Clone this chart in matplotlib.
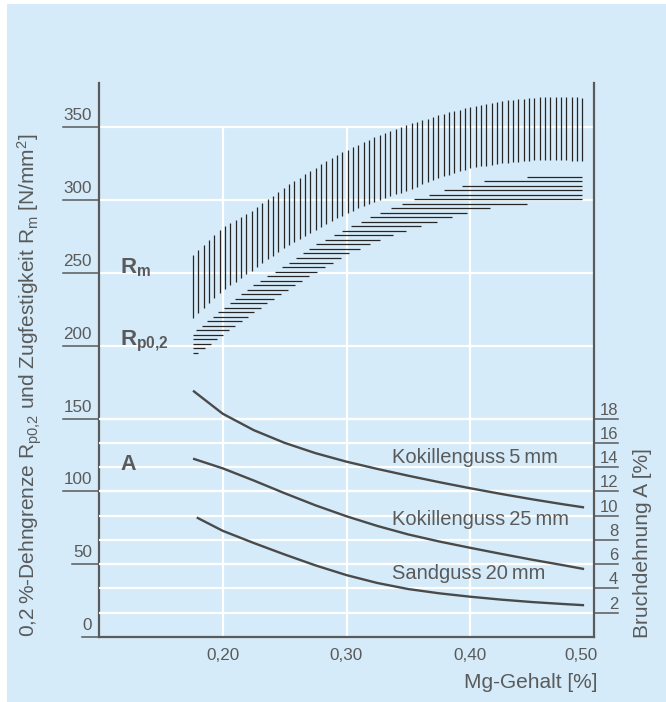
import numpy as np
import matplotlib.pyplot as plt
from matplotlib.patches import Rectangle
from matplotlib import transforms

plt.rcParams['font.family'] = ['Liberation Sans', 'DejaVu Sans']
plt.rcParams['mathtext.fontset'] = 'custom'
plt.rcParams['mathtext.rm'] = 'Liberation Sans'
plt.rcParams['mathtext.it'] = 'Liberation Sans:italic'
plt.rcParams['mathtext.bf'] = 'Liberation Sans:bold'

# Tick values and labels
x_ticks = [0.20, 0.30, 0.40, 0.50]
x_ticklabels = ['0,20', '0,30', '0,40', '0,50']
left_ticks = [0, 50, 100, 150, 200, 250, 300, 350]
right_ticks = [2, 4, 6, 8, 10, 12, 14, 16, 18]

# Strength bands (N/mm2) vs Mg content (%)
mg_band = [0.176, 0.20, 0.225, 0.25, 0.275, 0.30, 0.325, 0.35, 0.375, 0.40, 0.425, 0.45, 0.475, 0.49]
rm_upper = [262.5, 281.5, 293.5, 309, 322.4, 334.4, 344.2, 352, 358.5, 364.2, 368, 370.4, 371, 370.5]
rm_lower = [219, 238, 252.5, 267.6, 279.5, 291, 299.7, 307, 315.5, 322, 325.5, 327.3, 327.5, 327]
rp_upper = [209, 225.5, 242.3, 255.2, 269.3, 280.5, 290.5, 299.4, 306, 311.3, 315, 316.3, 316.5, 316.5]
rp_lower = [192.5, 207.5, 223, 237.3, 250.5, 262.5, 272, 279.5, 285.5, 292, 295.8, 297.8, 299.8, 300.5]

# Elongation A (%) vs Mg content (%)
mg_kok = [0.176, 0.20, 0.225, 0.25, 0.275, 0.30, 0.325, 0.35, 0.375, 0.40, 0.425, 0.45, 0.475, 0.492]
a_kok5 = [20.3, 18.4, 17.05, 16.0, 15.15, 14.45, 13.85, 13.29, 12.76, 12.26, 11.79, 11.35, 10.94, 10.68]
a_kok25 = [14.7, 13.9, 12.9, 11.85, 10.85, 9.95, 9.15, 8.45, 7.87, 7.35, 6.85, 6.37, 5.92, 5.6]
mg_sand = [0.179, 0.20, 0.225, 0.25, 0.275, 0.30, 0.325, 0.35, 0.375, 0.40, 0.425, 0.45, 0.475, 0.492]
a_sand = [9.85, 8.75, 7.75, 6.8, 5.9, 5.1, 4.45, 3.95, 3.6, 3.32, 3.08, 2.88, 2.72, 2.62]

curve_names = ['Kokillenguss\u20095\u2009mm', 'Kokillenguss\u200925\u2009mm', 'Sandguss\u200920\u2009mm']
curve_label_y = [14.3, 9.24, 4.79]

BLUE = '#d5ebf9'
GREY = '#5a5a5a'
DARK = '#4a4a4a'

fig = plt.figure(figsize=(6.66, 7.02), dpi=100, facecolor='white')
fig.patches.append(Rectangle((7 / 666, 0), 659 / 666, 698 / 702, transform=fig.transFigure,
                             facecolor=BLUE, edgecolor='none', zorder=-10))

ax = fig.add_axes([99 / 666, 65 / 702, 495 / 666, 554 / 702])
ax.set_facecolor('none')
ax.set_xlim(0.10, 0.50)
ax.set_ylim(0, 380.5)
ax2 = ax.twinx()
ax2.set_ylim(0, 380.5 * 18 / 150)

for a in (ax, ax2):
    a.tick_params(left=False, right=False, bottom=False, top=False,
                  labelleft=False, labelright=False, labelbottom=False)
    for s in a.spines.values():
        s.set_visible(False)
ax.spines['left'].set_visible(True)
ax.spines['bottom'].set_visible(True)
ax2.spines['right'].set_visible(True)
for s in (ax.spines['left'], ax.spines['bottom'], ax2.spines['right']):
    s.set_color(GREY)
    s.set_linewidth(1.6)

# white grid
for v in left_ticks[1:]:
    ax.axhline(v, color='white', lw=1.6, zorder=1)
ax.vlines(x_ticks[:-1], 0, left_ticks[-1], color='white', lw=1.6, zorder=1)
for v in right_ticks:
    ax2.axhline(v, color='white', lw=1.6, zorder=1)

# Rm band: vertical hatching
xs = np.arange(mg_band[0], mg_band[-1] + 0.001, 0.00431)
ax.vlines(xs, np.interp(xs, mg_band, rm_lower), np.interp(xs, mg_band, rm_upper),
          color='#262626', lw=0.9, zorder=3)

# Rp0,2 band: horizontal hatching
levels = np.arange(max(rp_upper) - 0.4, min(rp_lower) - 1.5, -3.1)
x_left = np.interp(levels, rp_upper, mg_band, left=mg_band[0], right=mg_band[-1])
x_right = np.interp(levels, rp_lower, mg_band, left=mg_band[0], right=mg_band[-1])
ax.hlines(levels, x_left, x_right, color='#262626', lw=0.9, zorder=3)

# elongation curves
for xv, yv in ((mg_kok, a_kok5), (mg_kok, a_kok25), (mg_sand, a_sand)):
    ax2.plot(xv, yv, color=DARK, lw=1.7, solid_capstyle='butt', solid_joinstyle='round', zorder=4)
for name, yv in zip(curve_names, curve_label_y):
    ax2.text(0.337, yv, name, fontsize=14.5, color=GREY, va='baseline', ha='left')

# band / curve labels
ax.text(0.117, 250, r'$\mathbf{R_m}$', fontsize=16, color=GREY, va='baseline')
ax.text(0.117, 200, r'$\mathbf{R_{p0{,}2}}$', fontsize=16, color=GREY, va='baseline')
ax2.text(0.117, 115 * 18 / 150, 'A', fontsize=15.5, fontweight='bold', color=GREY, va='baseline',
         zorder=5)

# custom tick labels with underline ticks
left_tr = transforms.blended_transform_factory(ax.transAxes, ax.transData)
right_tr = transforms.blended_transform_factory(ax2.transAxes, ax2.transData)
left_txt = []
for v in left_ticks:
    t = ax.text(0, v, str(v), fontsize=12.3, color=GREY, ha='right', va='bottom',
                transform=left_tr + transforms.ScaledTranslation(-7 / 100, 4 / 100, fig.dpi_scale_trans))
    left_txt.append(t)
for v in right_ticks:
    ax2.text(1, v, str(v), fontsize=12, color=GREY, ha='right', va='bottom',
             transform=right_tr + transforms.ScaledTranslation(24 / 100, 1 / 100, fig.dpi_scale_trans))
    ax2.plot([1, 1.0485], [v, v], color=GREY, lw=1.1, transform=right_tr, clip_on=False)

bottom_tr = transforms.blended_transform_factory(ax.transData, ax.transAxes)
for v, lab in zip(x_ticks, x_ticklabels):
    ha = 'right' if v == x_ticks[-1] else 'center'
    dx = 4 if v == x_ticks[-1] else 0
    ax.text(v, 0, lab, fontsize=12.3, color=GREY, ha=ha, va='top',
            transform=bottom_tr + transforms.ScaledTranslation(dx / 100, -11 / 100, fig.dpi_scale_trans))

fig.canvas.draw()
inv = ax.transAxes.inverted()
for t, v in zip(left_txt, left_ticks):
    bb = t.get_window_extent()
    x0 = inv.transform((bb.x0 - 1, 0))[0]
    ax.plot([x0, 0], [v, v], color=GREY, lw=1.1, transform=left_tr, clip_on=False)

# axis titles
fig.text(30 / 666, 65 / 702,
         '0,2\u2009%-Dehngrenze R$_{\\mathrm{p0{,}2}}$ und Zugfestigkeit R$_\\mathrm{m}$ [N/mm$^2$]',
         rotation=90, ha='center', va='bottom', fontsize=15, color=GREY)
fig.text(643 / 666, 64 / 702, 'Bruchdehnung A [%]', rotation=90, ha='center', va='bottom',
         fontsize=15, color=GREY)
fig.text(597 / 666, 20 / 702, 'Mg-Gehalt [%]', ha='right', va='center', fontsize=15, color=GREY)

fig.savefig('out.png', dpi=100, facecolor=fig.get_facecolor())
